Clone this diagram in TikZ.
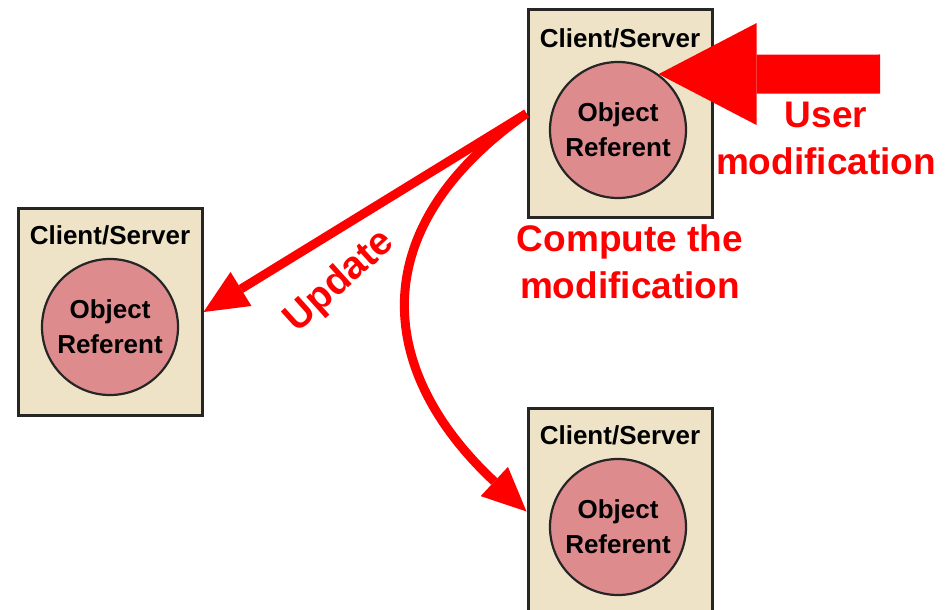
\documentclass[tikz,border=0pt]{standalone}
\usepackage{fontspec}
\setmainfont{Liberation Sans}
\usetikzlibrary{arrows.meta}
\definecolor{boxfill}{HTML}{EEE3C6}
\definecolor{objfill}{HTML}{DE8B8E}

\begin{document}
\begin{tikzpicture}[x=10pt,y=10pt,
  every node/.style={inner sep=0pt},
  server/.style={draw=black!85,line width=3pt,fill=boxfill,minimum width=184pt,minimum height=207pt},
  referent/.style={circle,draw=black!85,line width=2.2pt,fill=objfill,minimum size=136pt,align=center,font=\bfseries\fontsize{26}{35}\selectfont},
  title/.style={font=\bfseries\fontsize{26}{30}\selectfont},
  redtext/.style={text=red,align=center,font=\bfseries\fontsize{37}{47}\selectfont},
  update/.style={draw=red,line width=9pt,-{Triangle[length=44pt,width=40pt,line width=0pt]}},
  userarrow/.style={draw=red,line width=39pt,-{Triangle[length=98pt,width=102pt,line width=0pt]}}]
\useasboundingbox (0,0) rectangle (95.1,-61.0);
% machines
\node[server] (topbox) at (62.0,-11.35) {};
\node[title] (toptitle) at (62.0,-3.8) {Client/Server};
\node[referent] (topref) at (61.8,-13.0) {Object\\Referent};
\node[server] (leftbox) at (11.0,-31.2) {};
\node[title] (lefttitle) at (11.0,-23.5) {Client/Server};
\node[referent] (leftref) at (11.0,-32.7) {Object\\Referent};
\node[server] (botbox) at (62.0,-51.15) {};
\node[title] (bottitle) at (62.0,-43.5) {Client/Server};
\node[referent] (botref) at (61.8,-52.7) {Object\\Referent};
% labels
\node[redtext] (userlbl) at (82.6,-13.8) {User\\modification};
\node[redtext] (computelbl) at (63.0,-26.2) {Compute the\\modification};
\node[redtext,rotate=42,font=\bfseries\fontsize{39}{47}\selectfont] (updatelbl) at (34.0,-28.2) {Update};
% arrows
\coordinate (usertail) at (88.0,-7.4);
\draw[userarrow] (usertail) -- (topref.54);
\draw[update] (topbox.west) -- (leftbox.east);
\draw[update] (topbox.west) .. controls +(215:20.3) and +(137:20.3) .. (botbox.west);
\end{tikzpicture}
\end{document}
